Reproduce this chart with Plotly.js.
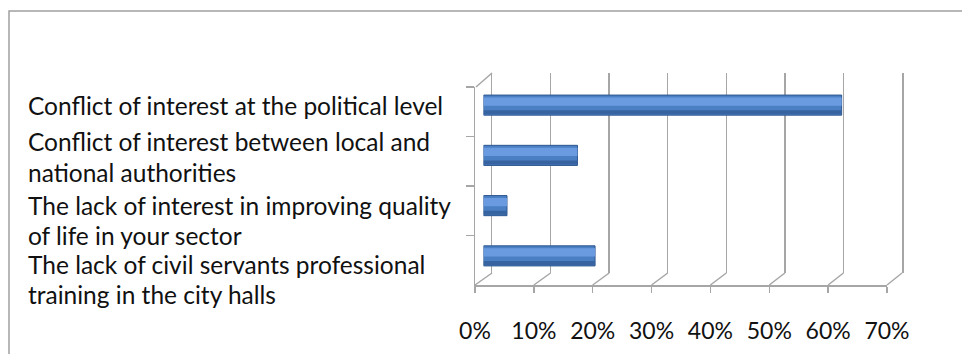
<!DOCTYPE html>
<html>
<head>
<meta charset="utf-8">
<script src="https://cdn.plot.ly/plotly-3.0.1.min.js"></script>
<style>html,body{margin:0;padding:0;background:#fff;}#chart{width:962px;height:354px;}</style>
</head>
<body>
<div id="chart"></div>
<script>
// ---- data ----
const categories = [
  "Conflict of interest at the political level",
  "Conflict of interest between local and national authorities",
  "The lack of interest in improving quality of life in your sector",
  "The lack of civil servants professional training in the city halls"
];
const labelLines = [
  ["Conflict of interest at the political level"],
  ["Conflict of interest between local and", "national authorities"],
  ["The lack of interest in improving quality", "of life in your sector"],
  ["The lack of civil servants professional", "training in the city halls"]
];
const values = [61, 16, 4, 19];
const tickValues = [0, 10, 20, 30, 40, 50, 60, 70];
const tickLabels = ["0%", "10%", "20%", "30%", "40%", "50%", "60%", "70%"];

// ---- geometry / style ----
const W = 962, H = 354;
const fx = p => p / W;
const fy = p => 1 - p / H;
const front = {x0: 475, x1: 887, yTop: 87, yBot: 285};
const back  = {x0: 492, x1: 902, yTop: 73, yBot: 273};
const mid   = {x0: 483.5, x1: 894.5, yTop: 80, yBot: 281};
const XMAX = 70;
const gridCol = '#a6a6a6';
const textCol = '#111111';
const FONT = 'Lato, "Open Sans", sans-serif';
// vertical pixel shift of each label line relative to its bar centre
const labelShift = [[0], [13.4, -17.6], [0.6, -29.4], [-9.1, -39.1]];

const catRange = [categories.length - 0.5, -0.5];

const traces = [
  {type: 'scatter', mode: 'none', x: values, y: categories, xaxis: 'x', yaxis: 'y', hoverinfo: 'skip', showlegend: false},
  {type: 'scatter', mode: 'none', x: values, y: categories, xaxis: 'x2', yaxis: 'y2', hoverinfo: 'skip', showlegend: false},
  {type: 'bar', orientation: 'h', x: values, y: categories, xaxis: 'x3', yaxis: 'y3', width: 0.4,
   marker: {color: '#4a7fc4', line: {color: '#2e568f', width: 1}}, hoverinfo: 'x+y', showlegend: false},
  {type: 'bar', orientation: 'h', x: values, y: categories, xaxis: 'x3', yaxis: 'y3', width: 0.16, offset: -0.15,
   marker: {color: '#6a9be0', line: {width: 0}}, hoverinfo: 'skip', showlegend: false},
  {type: 'bar', orientation: 'h', x: values, y: categories, xaxis: 'x3', yaxis: 'y3', width: 0.08, offset: 0.1,
   marker: {color: '#3763a0', line: {width: 0}}, hoverinfo: 'skip', showlegend: false}
];

const shapes = [];
shapes.push({type: 'rect', xref: 'paper', yref: 'paper', x0: fx(9), x1: 1.05, y0: -0.05, y1: fy(11),
  line: {color: '#a0a0a0', width: 1.5}, fillcolor: 'rgba(0,0,0,0)', layer: 'below'});
tickValues.forEach(v => {
  shapes.push({type: 'line', xref: 'paper', yref: 'paper',
    x0: fx(front.x0 + v / XMAX * (front.x1 - front.x0)), y0: fy(front.yBot),
    x1: fx(back.x0 + v / XMAX * (back.x1 - back.x0)), y1: fy(back.yBot),
    line: {color: gridCol, width: 1.5}});
});
shapes.push({type: 'line', xref: 'paper', yref: 'paper',
  x0: fx(front.x0 + 1), y0: fy(front.yTop), x1: fx(back.x0), y1: fy(back.yTop),
  line: {color: gridCol, width: 1.5}});

const annotations = [];
labelLines.forEach((lines, i) => {
  lines.forEach((t, j) => {
    annotations.push({xref: 'paper', yref: 'y3', x: fx(27), y: categories[i], xanchor: 'left', yanchor: 'middle',
      yshift: labelShift[i][j], text: t, showarrow: false, align: 'left', borderpad: 0,
      font: {family: FONT, size: 24.5, color: textCol}});
  });
});

const layout = {
  width: W, height: H,
  margin: {l: 0, r: 0, t: 0, b: 0, pad: 0},
  paper_bgcolor: '#ffffff', plot_bgcolor: 'rgba(0,0,0,0)',
  showlegend: false, barmode: 'overlay',
  font: {family: FONT, color: textCol},
  xaxis: {domain: [fx(front.x0), fx(front.x1)], anchor: 'y', range: [0, XMAX],
    tickmode: 'array', tickvals: tickValues, ticktext: tickLabels,
    showgrid: false, zeroline: false, showline: true, linecolor: gridCol, linewidth: 1.5,
    ticks: 'outside', ticklen: 6, tickcolor: gridCol, tickwidth: 1.5,
    ticklabelstandoff: 19, tickfont: {family: FONT, size: 23, color: textCol}, fixedrange: true},
  yaxis: {domain: [fy(front.yBot), fy(front.yTop)], anchor: 'x', type: 'category',
    categoryarray: categories, categoryorder: 'array', range: catRange,
    showgrid: false, zeroline: false, showline: true, linecolor: gridCol, linewidth: 1.5,
    ticks: 'outside', tickson: 'boundaries', ticklen: 8, tickcolor: gridCol, tickwidth: 1.5,
    showticklabels: false, fixedrange: true},
  xaxis2: {domain: [fx(back.x0), fx(back.x1)], anchor: 'y2', range: [0, XMAX],
    tickmode: 'array', tickvals: tickValues, showticklabels: false, ticks: '',
    showgrid: true, gridcolor: gridCol, gridwidth: 1.5, zeroline: false, showline: false, fixedrange: true},
  yaxis2: {domain: [fy(back.yBot), fy(back.yTop)], anchor: 'x2', type: 'category',
    categoryarray: categories, categoryorder: 'array', range: catRange,
    showgrid: false, zeroline: false, showline: true, mirror: true, linecolor: gridCol, linewidth: 1.5,
    showticklabels: false, ticks: '', fixedrange: true},
  xaxis3: {domain: [fx(mid.x0), fx(mid.x1)], anchor: 'y3', range: [0, XMAX],
    visible: false, fixedrange: true},
  yaxis3: {domain: [fy(mid.yBot), fy(mid.yTop)], anchor: 'x3', type: 'category',
    categoryarray: categories, categoryorder: 'array', range: catRange,
    visible: false, fixedrange: true},
  shapes: shapes,
  annotations: annotations
};

Plotly.newPlot('chart', traces, layout, {displayModeBar: false, staticPlot: true});
</script>
</body>
</html>
